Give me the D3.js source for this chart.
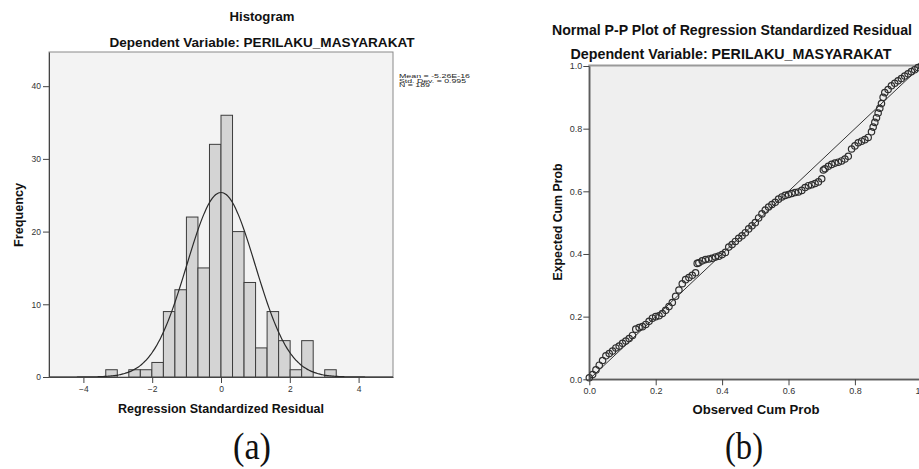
<!DOCTYPE html>
<html>
<head>
<meta charset="utf-8">
<script src="https://cdn.jsdelivr.net/npm/d3@7"></script>
<style>
  body { margin: 0; background: #fff; }
  text { font-family: "Liberation Sans", Arial, sans-serif; }
</style>
</head>
<body>
<svg id="chart" width="919" height="469"></svg>
<script>
// histogram bins (lower edge) and counts
const binWidth = 0.335
const binLower = [-3.35, -3.015, -2.68, -2.345, -2.01, -1.675, -1.34, -1.005, -0.67, -0.335,
                  0, 0.335, 0.67, 1.005, 1.34, 1.675, 2.01, 2.345, 2.68, 3.015]
const binCounts = [1, 0, 1, 1, 2, 9, 12, 22, 15, 32,
                   36, 20, 13, 4, 9, 5, 1, 5, 0, 1]
const histTicksX = [-4, -2, 0, 2, 4]
const histTicksY = [0, 10, 20, 30, 40]
const statMean = -5.26e-16
const statSd = 0.995
const statN = 189
const statLines = ["Mean = -5.26E-16", "Std. Dev. = 0.995", "N = 189"]

// p-p plot points (observed cum prob, expected cum prob)
const ppObserved = [0.00, 0.01, 0.02, 0.03, 0.04, 0.05, 0.06, 0.07, 0.08, 0.09,
                    0.10, 0.11, 0.12, 0.13, 0.14, 0.15, 0.16, 0.17, 0.18, 0.19,
                    0.20, 0.21, 0.22, 0.23, 0.24, 0.25, 0.26, 0.27, 0.28, 0.29,
                    0.30, 0.31, 0.32, 0.325, 0.33, 0.34, 0.35, 0.36, 0.37, 0.38,
                    0.39, 0.40, 0.41, 0.42, 0.43, 0.44, 0.45, 0.46, 0.47, 0.48,
                    0.49, 0.50, 0.51, 0.52, 0.53, 0.54, 0.55, 0.56, 0.57, 0.58,
                    0.59, 0.60, 0.61, 0.62, 0.63, 0.64, 0.65, 0.66, 0.67, 0.68,
                    0.69, 0.70, 0.705, 0.71, 0.72, 0.73, 0.74, 0.75, 0.76, 0.77,
                    0.78, 0.79, 0.80, 0.81, 0.82, 0.83, 0.84, 0.85, 0.855, 0.86,
                    0.865, 0.87, 0.875, 0.88, 0.885, 0.89, 0.90, 0.91, 0.92, 0.93,
                    0.94, 0.95, 0.96, 0.97, 0.98, 0.99, 1.00]
const ppExpected = [0.005, 0.015, 0.030, 0.045, 0.060, 0.075, 0.082, 0.090, 0.100, 0.106,
                    0.115, 0.122, 0.130, 0.140, 0.160, 0.165, 0.168, 0.175, 0.185, 0.195,
                    0.200, 0.203, 0.210, 0.220, 0.232, 0.245, 0.265, 0.285, 0.305, 0.318,
                    0.325, 0.332, 0.340, 0.370, 0.372, 0.378, 0.382, 0.384, 0.386, 0.390,
                    0.393, 0.398, 0.405, 0.422, 0.430, 0.440, 0.450, 0.458, 0.468, 0.480,
                    0.490, 0.500, 0.515, 0.528, 0.540, 0.550, 0.558, 0.565, 0.575, 0.582,
                    0.587, 0.590, 0.593, 0.596, 0.598, 0.603, 0.612, 0.618, 0.621, 0.625,
                    0.630, 0.640, 0.668, 0.672, 0.680, 0.686, 0.690, 0.693, 0.697, 0.703,
                    0.712, 0.735, 0.745, 0.755, 0.760, 0.765, 0.772, 0.790, 0.805, 0.820,
                    0.835, 0.850, 0.865, 0.880, 0.900, 0.915, 0.925, 0.937, 0.945, 0.953,
                    0.960, 0.968, 0.975, 0.982, 0.988, 0.995, 1.000]
const ppTicks = [0, 0.2, 0.4, 0.6, 0.8, 1.0]

const svg = d3.select('#chart')
svg.append('rect').attr('width', 919).attr('height', 469).attr('fill', '#fff')

// text helper, squeezes text to the width measured in the picture
function addText(g, str, x, y, size, len, opts = {}) {
    let t = g.append('text')
        .attr('x', x).attr('y', y)
        .attr('font-size', size)
        .attr('font-weight', opts.bold ? 'bold' : 'normal')
        .attr('fill', opts.fill || '#111')
        .attr('text-anchor', opts.anchor || 'middle')
        .text(str)
    if (len) t.attr('textLength', len).attr('lengthAdjust', 'spacingAndGlyphs')
    if (opts.family) t.style('font-family', opts.family)
    if (opts.transform) t.attr('transform', opts.transform)
    return t
}

function styleAxis(g, size) {
    g.select('.domain').attr('stroke', '#444')
    g.selectAll('.tick line').attr('stroke', '#444')
    g.selectAll('.tick text').attr('fill', '#333').attr('font-size', size)
        .style('font-family', '"Liberation Sans", Arial, sans-serif')
}

function drawHistogram() {
    let g = svg.append('g')
    let x = d3.scaleLinear().domain([-5, 5]).range([49, 393])
    let y = d3.scaleLinear().domain([0, 44.7]).range([377, 52])

    g.append('rect').attr('x', 49).attr('y', 52).attr('width', 344).attr('height', 325)
        .attr('fill', '#f3f3f3').attr('stroke', '#8a8a8a').attr('stroke-width', 1)

    //bars
    let bins = binLower.map((lo, i) => ({lo: lo, count: binCounts[i]}))
    g.selectAll('.bar')
        .data(bins.filter(d => d.count > 0))
        .join('rect')
        .attr('class', 'bar')
        .attr('x', d => x(d.lo))
        .attr('y', d => y(d.count))
        .attr('width', d => x(d.lo + binWidth) - x(d.lo))
        .attr('height', d => y(0) - y(d.count))
        .attr('fill', '#d4d4d4')
        .attr('stroke', '#3c3c3c')
        .attr('stroke-width', 1)

    //fitted normal curve
    let pdf = v => Math.exp(-0.5 * Math.pow((v - statMean) / statSd, 2)) / (statSd * Math.sqrt(2 * Math.PI))
    let curve = d3.range(-5, 5.001, 0.05).map(v => [x(v), y(statN * binWidth * pdf(v))])
    g.append('path')
        .attr('d', d3.line().curve(d3.curveBasis)(curve))
        .attr('fill', 'none').attr('stroke', '#2a2a2a').attr('stroke-width', 1.2)

    let ax = g.append('g').attr('transform', 'translate(0,377)')
        .call(d3.axisBottom(x).tickValues(histTicksX).tickSize(6).tickPadding(3).tickSizeOuter(0))
    styleAxis(ax, 8.5)
    let ay = g.append('g').attr('transform', 'translate(49,0)')
        .call(d3.axisLeft(y).tickValues(histTicksY).tickSize(6).tickPadding(2).tickSizeOuter(0))
    styleAxis(ay, 8.5)

    addText(g, 'Histogram', 262, 21, 13, 65, {bold: true})
    addText(g, 'Dependent Variable: PERILAKU_MASYARAKAT', 262, 47, 13, 305, {bold: true})
    addText(g, 'Frequency', 0, 0, 12.5, 64, {bold: true, transform: 'translate(23,215) rotate(-90)'})
    addText(g, 'Regression Standardized Residual', 221, 413, 12.5, 206, {bold: true})

    //stat box next to the plot
    let lens = [71, 67, 31]
    statLines.forEach((s, i) => {
        addText(g, s, 399, 78 + i * 4.6, 6, lens[i], {anchor: 'start', fill: '#222'})
    })
}

function drawPP() {
    let g = svg.append('g')
    let x = d3.scaleLinear().domain([0, 1]).range([589.3, 921.3])
    let y = d3.scaleLinear().domain([0, 1]).range([379.3, 66])

    g.append('rect').attr('x', 589.3).attr('y', 65.5).attr('width', 332).attr('height', 313.8)
        .attr('fill', '#efefef').attr('stroke', '#9a9a9a').attr('stroke-width', 2)

    //reference diagonal
    g.append('line')
        .attr('x1', x(0)).attr('y1', y(0)).attr('x2', x(1)).attr('y2', y(1))
        .attr('stroke', '#333').attr('stroke-width', 1)

    let pts = ppObserved.map((o, i) => ({obs: o, exp: ppExpected[i]}))
    g.selectAll('.pt')
        .data(pts)
        .join('circle')
        .attr('class', 'pt')
        .attr('cx', d => x(d.obs))
        .attr('cy', d => y(d.exp))
        .attr('r', 3.2)
        .attr('fill', 'none')
        .attr('stroke', '#2e2e2e')
        .attr('stroke-width', 1.2)

    let ax = g.append('g').attr('transform', 'translate(0,379.3)')
        .call(d3.axisBottom(x).tickValues(ppTicks).tickFormat(d3.format('.1f')).tickSize(6).tickPadding(2).tickSizeOuter(0))
    styleAxis(ax, 9)
    let ay = g.append('g').attr('transform', 'translate(589.3,0)')
        .call(d3.axisLeft(y).tickValues(ppTicks).tickFormat(d3.format('.1f')).tickSize(6).tickPadding(1).tickSizeOuter(0))
    styleAxis(ay, 9)

    addText(g, 'Normal P-P Plot of Regression Standardized Residual', 732, 35, 14, 360, {bold: true})
    addText(g, 'Dependent Variable: PERILAKU_MASYARAKAT', 731, 59, 14, 321, {bold: true})
    addText(g, 'Expected Cum Prob', 0, 0, 12.5, 117, {bold: true, transform: 'translate(562,222) rotate(-90)'})
    addText(g, 'Observed Cum Prob', 756, 414, 13.5, 127, {bold: true})
}

drawHistogram()
drawPP()

//panel captions
addText(svg, '(a)', 0, 0, 33, 38, {family: '"Liberation Serif", "Times New Roman", serif', transform: 'translate(252,459) scale(1,1.15)'})
addText(svg, '(b)', 0, 0, 33, 38, {family: '"Liberation Serif", "Times New Roman", serif', transform: 'translate(744,459) scale(1,1.15)'})
</script>
</body>
</html>
